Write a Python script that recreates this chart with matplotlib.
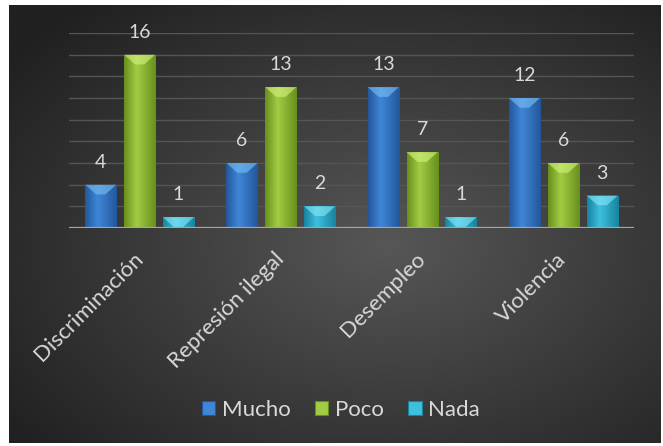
# Imports =====================================================================
import numpy as np
import matplotlib.pyplot as plt
from matplotlib.patches import Polygon, Patch
from matplotlib.transforms import ScaledTranslation

# Data ========================================================================
categories = ["Discriminación", "Represión ilegal", "Desempleo", "Violencia"]
series_names = ["Mucho", "Poco", "Nada"]
mucho = [4, 6, 13, 12]
poco = [16, 13, 7, 6]
nada = [1, 2, 1, 3]
series_values = [mucho, poco, nada]

# (edge, centre, top highlight) for each series
series_colors = [
    ("#23579b", "#3f86d8", "#7cc0f5"),
    ("#678f1c", "#a2cc44", "#d6f57e"),
    ("#17839f", "#3cc0de", "#8de8f8"),
]
text_color = "#d9d9d9"

plt.rcParams["font.family"] = ["Lato", "DejaVu Sans"]

# Figure ======================================================================
fig = plt.figure(figsize=(6.63, 4.46), dpi=100, facecolor="white")

# dark radial background panel
bg = fig.add_axes([9 / 663, 3 / 446, 652 / 663, 438 / 446])
bg.set_axis_off()
yy, xx = np.mgrid[0:1:300j, 0:1:450j]
r = np.sqrt(((xx - 0.58) / 0.75) ** 2 + ((yy - 0.45) / 0.75) ** 2)
shade = np.clip(0.34 - 0.22 * r, 0.13, 0.34)
bg.imshow(shade, cmap="gray", vmin=0, vmax=1, aspect="auto",
          extent=[0, 1, 0, 1], origin="lower", interpolation="bicubic")

ax = fig.add_axes([69 / 663, (446 - 228) / 446, 565 / 663, 195 / 446])
ax.patch.set_alpha(0)
ax.set_xlim(-0.5, len(categories) - 0.5)
ax.set_ylim(0, 18)

for g in range(2, 19, 2):
    ax.axhline(g, color="#555555", lw=1.0, zorder=0)
ax.axhline(0, color="#a6a6a6", lw=1.6, zorder=4)

x = np.arange(len(categories))
step = 0.275
width = 0.22
grad = np.concatenate([np.linspace(0, 1, 40), np.linspace(1, 0, 60)])

for i, (name, vals, cols) in enumerate(zip(series_names, series_values, series_colors)):
    xs = x + (i - 1) * step
    bars = ax.bar(xs, vals, width, color=cols[1], zorder=2, label=name)
    edge = np.array(plt.matplotlib.colors.to_rgb(cols[0]))
    mid = np.array(plt.matplotlib.colors.to_rgb(cols[1]))
    img = edge[None, None, :] + (mid - edge)[None, None, :] * grad[None, :, None]
    for b, v in zip(bars, vals):
        x0 = b.get_x()
        x1 = x0 + b.get_width()
        im = ax.imshow(img, extent=[x0, x1, 0, v], aspect="auto", zorder=2,
                       interpolation="bilinear")
        im.set_clip_path(b)
        # bevel highlight on the bar top
        h = min(0.9, v)
        xc = (x0 + x1) / 2
        w = x1 - x0
        ax.add_patch(Polygon([(x0, v), (x1, v), (xc + w * 0.15, v - h),
                              (xc - w * 0.15, v - h)],
                             closed=True, color=cols[2], alpha=0.6, lw=0, zorder=3))
        ax.annotate(str(v), (xc, v), xytext=(0, 10), textcoords="offset points",
                    ha="center", va="bottom", fontsize=14, color=text_color)

ax.set_xticks(x)
ax.set_xticklabels(categories, rotation=45, ha="right", rotation_mode="anchor",
                   fontsize=16, color=text_color)
ax.tick_params(axis="x", length=0, pad=15)
# nudge the rotated labels a little to the left
shift = ScaledTranslation(-7 / 100, 0, fig.dpi_scale_trans)
for lbl in ax.get_xticklabels():
    lbl.set_transform(lbl.get_transform() + shift)
ax.set_yticks([])
for s in ax.spines.values():
    s.set_visible(False)

handles = [Patch(facecolor=c[1], edgecolor=c[0], lw=0.8) for c in series_colors]
fig.legend(handles, series_names, loc="center", bbox_to_anchor=(341 / 663, 36 / 446),
           ncol=3, frameon=False, fontsize=16, labelcolor=text_color,
           handlelength=0.6, handleheight=0.6, handletextpad=0.3, columnspacing=1.1)

plt.savefig("out.png", dpi=100, facecolor="white")
